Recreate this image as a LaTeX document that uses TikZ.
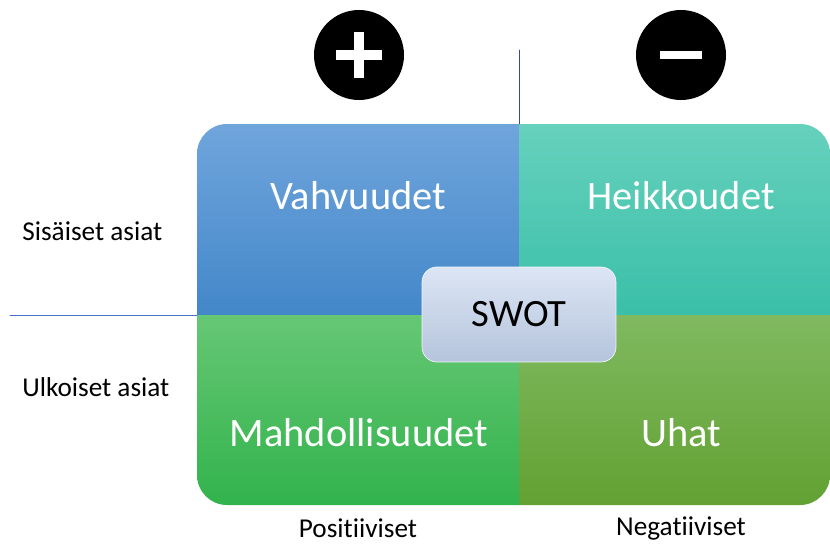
\documentclass[tikz,border=0pt]{standalone}
\usepackage{fontspec}
\setmainfont[Ligatures = NoCommon]{Carlito}

\definecolor{vahTop}{HTML}{70A5DC}
\definecolor{vahBot}{HTML}{4387C9}
\definecolor{heiTop}{HTML}{66D1BD}
\definecolor{heiBot}{HTML}{3ABFA8}
\definecolor{mahTop}{HTML}{66C775}
\definecolor{mahBot}{HTML}{32B34C}
\definecolor{uhaTop}{HTML}{80B960}
\definecolor{uhaBot}{HTML}{62A132}
\definecolor{swotTop}{HTML}{DCE5F4}
\definecolor{swotBot}{HTML}{B5C4DC}
\definecolor{axisblue}{HTML}{4472C4}

\begin{document}
\begin{tikzpicture}[x = .02cm, y = -.02cm, line join = round, line cap = round,
  quad/.style = {text = white, font = \fontsize{23}{27}\selectfont},
  side/.style = {font = \fontsize{15.5}{18}\selectfont, inner sep = 0}]
  \useasboundingbox (0, 0) rectangle (830, 544);

  \def\qL{197}
  \def\qM{519}
  \def\qR{830}
  \def\qT{124}
  \def\qMid{315}
  \def\qB{505}

  \begin{scope}
    \clip[rounded corners = .6cm] (\qL, \qT) rectangle (\qR, \qB);
    \shade[top color = vahTop, bottom color = vahBot] (\qL, \qT) rectangle
    (\qM, \qMid);
    \shade[top color = heiTop, bottom color = heiBot] (\qM, \qT) rectangle
    (\qR, \qMid);
    \shade[top color = mahTop, bottom color = mahBot] (\qL, \qMid) rectangle
    (\qM, \qB);
    \shade[top color = uhaTop, bottom color = uhaBot] (\qM, \qMid) rectangle
    (\qR, \qB);
  \end{scope}

  \draw[axisblue!70!black, line width = .5pt] (\qM, 50) -- (\qM, \qT);
  \draw[axisblue, line width = .5pt] (10, \qMid) -- (\qL, \qMid);

  \node[quad] (vah) at (358, 196) {Vahvuudet};
  \node[quad] (hei) at (681, 196) {Heikkoudet};
  \node[quad] (mah) at (359, 433) {Mahdollisuudet};
  \node[quad] (uha) at (681, 433) {Uhat};

  \node[rounded corners = .3cm, top color = swotTop, bottom color = swotBot,
  draw = white!60!swotTop, line width = .4pt,
  minimum width = 3.88cm, minimum height = 1.9cm,
  font = \fontsize{22}{26}\selectfont] (swot) at (\qM, 314.5) {SWOT};

  % plus ja miinus
  \fill (359, 55) circle[radius = 45];
  \fill[white] (336, 50) rectangle (382, 60);
  \fill[white] (354, 32) rectangle (364, 78);
  \fill (681, 55) circle[radius = 45];
  \fill[white] (660, 51) rectangle (702, 59);

  \node[side, anchor = west] (sis) at (22, 231) {Sisäiset asiat};
  \node[side, anchor = west] (ulk) at (22, 387) {Ulkoiset asiat};
  \node[side] (pos) at (358, 528) {Positiiviset};
  \node[side] (neg) at (681, 528) {Negatiiviset};
\end{tikzpicture}
\end{document}
